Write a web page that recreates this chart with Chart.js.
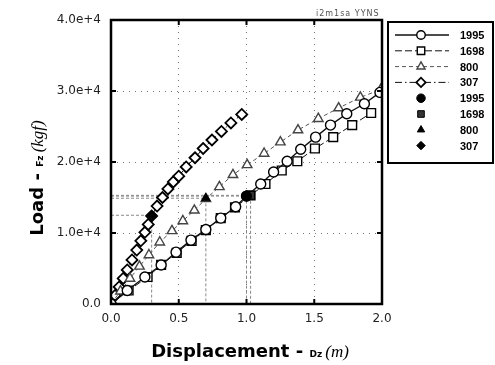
<!DOCTYPE html>
<html>
<head>
<meta charset="utf-8">
<script src="https://cdn.jsdelivr.net/npm/chart.js@4"></script>
<style>
  body { margin: 0; background: #fff; }
  #wrap { width: 495px; height: 365px; }
</style>
</head>
<body>
<div id="wrap"><canvas id="loadChart"></canvas></div>
<script>
// curves: displacement (m) and load (kgf)
const x1995 = [0, 0.12, 0.25, 0.37, 0.48, 0.59, 0.70, 0.81, 0.92, 1.0, 1.105, 1.20, 1.30, 1.40, 1.51, 1.62, 1.74, 1.87, 1.985];
const y1995 = [0, 1900, 3800, 5500, 7300, 9000, 10500, 12100, 13700, 15200, 16900, 18600, 20100, 21800, 23500, 25200, 26800, 28200, 29800];

const x1698 = [0, 0.13, 0.27, 0.37, 0.485, 0.595, 0.70, 0.81, 0.915, 1.03, 1.14, 1.26, 1.375, 1.505, 1.64, 1.78, 1.92];
const y1698 = [0, 1900, 3800, 5500, 7200, 8900, 10400, 12100, 13600, 15300, 16900, 18800, 20100, 21900, 23500, 25200, 26900];

const x800 = [0, 0.07, 0.14, 0.21, 0.28, 0.36, 0.45, 0.53, 0.615, 0.70, 0.80, 0.90, 1.005, 1.13, 1.25, 1.38, 1.53, 1.68, 1.84, 1.99];
const y800 = [0, 1800, 3600, 5300, 6900, 8700, 10300, 11700, 13200, 14800, 16500, 18200, 19600, 21200, 22800, 24500, 26100, 27600, 29100, 30200];

const x307 = [0, 0.03, 0.06, 0.09, 0.12, 0.155, 0.19, 0.22, 0.25, 0.275, 0.30, 0.34, 0.38, 0.42, 0.46, 0.50, 0.555, 0.62, 0.68, 0.745, 0.815, 0.885, 0.965];
const y307 = [0, 1200, 2400, 3600, 4800, 6200, 7600, 8900, 10100, 11200, 12400, 13800, 15000, 16200, 17200, 18000, 19300, 20600, 21900, 23100, 24300, 25500, 26700];

// highlighted (filled) points
const markLabels = ['1995', '1698', '800', '307'];
const markX = [1.0, 1.03, 0.70, 0.30];
const markY = [15200, 15300, 14900, 12500];

const xTicks = [0, 0.5, 1.0, 1.5, 2.0];
const yTicks = [0, 10000, 20000, 30000, 40000];

const pts = (xs, ys) => xs.map((v, i) => ({ x: v, y: ys[i] }));

const series = [
    { label: '1995', data: pts(x1995, y1995), pointStyle: 'circle', pointRadius: 5, borderDash: [] },
    { label: '1698', data: pts(x1698, y1698), pointStyle: 'rect', pointRadius: 6.2, borderDash: [7, 3] },
    { label: '800', data: pts(x800, y800), pointStyle: 'triangle', pointRadius: 5.5, borderDash: [4, 3] },
    { label: '307', data: pts(x307, y307), pointStyle: 'rectRot', pointRadius: 5.5, borderDash: [7, 3, 1.5, 3] }
];
const lineDatasets = series.map(s => ({
    label: s.label,
    data: s.data,
    showLine: true,
    borderColor: s.label === '800' ? '#555' : '#111',
    borderWidth: s.label === '1995' ? 1.4 : 1,
    borderDash: s.borderDash,
    pointStyle: s.pointStyle,
    pointRadius: s.pointRadius,
    pointBackgroundColor: '#fff',
    pointBorderColor: s.label === '800' ? '#444' : '#000',
    pointBorderWidth: s.label === '307' ? 1.8 : 1.4,
    order: 2
}));

const markStyles = ['circle', 'rect', 'triangle', 'rectRot'];
const markDatasets = markLabels.map((l, i) => ({
    label: l,
    data: [{ x: markX[i], y: markY[i] }],
    showLine: false,
    pointStyle: markStyles[i],
    pointRadius: i === 1 ? 5.5 : 5,
    pointBackgroundColor: i === 1 ? '#333' : '#000',
    pointBorderColor: '#000',
    pointBorderWidth: 1,
    order: 1
}));

// dashed guides from the filled points to both axes
const guideDatasets = markLabels.map((l, i) => ({
    label: 'guide' + l,
    data: [{ x: 0, y: markY[i] }, { x: markX[i], y: markY[i] }, { x: markX[i], y: 0 }],
    showLine: true,
    borderColor: '#888',
    borderWidth: 1,
    borderDash: [3, 2],
    pointRadius: 0,
    order: 5
}));

function drawParts(ctx, parts, cx, cy) {
    let total = 0;
    parts.forEach(p => { ctx.font = p.font; total += ctx.measureText(p.text).width; });
    let x = cx - total / 2;
    parts.forEach(p => {
        ctx.font = p.font;
        ctx.fillText(p.text, x, cy + (p.dy || 0));
        x += ctx.measureText(p.text).width;
    });
}

const framePlugin = {
    id: 'frame',
    afterDraw(chart) {
        const ctx = chart.ctx;
        const a = chart.chartArea;
        const sx = chart.scales.x, sy = chart.scales.y;
        ctx.save();
        // box
        ctx.strokeStyle = '#000';
        ctx.lineWidth = 2.5;
        ctx.setLineDash([]);
        ctx.strokeRect(a.left, a.top, a.right - a.left, a.bottom - a.top);
        // inward tick marks
        ctx.lineWidth = 2;
        xTicks.forEach(v => {
            const px = sx.getPixelForValue(v);
            ctx.beginPath();
            ctx.moveTo(px, a.bottom); ctx.lineTo(px, a.bottom - 5);
            ctx.moveTo(px, a.top); ctx.lineTo(px, a.top + 5);
            ctx.stroke();
        });
        yTicks.forEach(v => {
            const py = sy.getPixelForValue(v);
            ctx.beginPath();
            ctx.moveTo(a.left, py); ctx.lineTo(a.left + 5, py);
            ctx.moveTo(a.right, py); ctx.lineTo(a.right - 5, py);
            ctx.stroke();
        });

        ctx.fillStyle = '#000';
        ctx.textBaseline = 'alphabetic';
        // x title
        drawParts(ctx, [
            { text: 'Displacement - ', font: 'bold 18px "DejaVu Sans"' },
            { text: 'Dz ', font: 'bold 9px "DejaVu Sans"' },
            { text: '(m)', font: 'italic 17px "Liberation Serif"' }
        ], 250, 357);
        // y title
        ctx.save();
        ctx.translate(43, 178);
        ctx.rotate(-Math.PI / 2);
        drawParts(ctx, [
            { text: 'Load - ', font: 'bold 18px "DejaVu Sans"' },
            { text: 'Fz ', font: 'bold 9px "DejaVu Sans"' },
            { text: '(kgf)', font: 'italic 17px "Liberation Serif"' }
        ], 0, 0);
        ctx.restore();

        // small tag above the plot
        ctx.fillStyle = '#555';
        ctx.font = '8px "DejaVu Sans"';
        ctx.textAlign = 'left';
        ctx.letterSpacing = '1px';
        ctx.fillText('i2m1sa YYNS', 316, 16);
        ctx.letterSpacing = '0px';

        // legend box
        const lx = 388, ly = 22, lw = 105, lh = 141;
        ctx.strokeStyle = '#000';
        ctx.lineWidth = 2;
        ctx.strokeRect(lx, ly, lw, lh);
        const rows = chart.data.datasets.filter(d => !d.label.startsWith('guide'));
        rows.sort((p, q) => q.order - p.order);
        rows.forEach((d, i) => {
            const y = 35 + i * 15.8;
            if (d.showLine) {
                ctx.strokeStyle = d.borderColor;
                ctx.lineWidth = d.borderWidth;
                ctx.setLineDash(d.borderDash);
                ctx.beginPath();
                ctx.moveTo(395, y); ctx.lineTo(449, y);
                ctx.stroke();
                ctx.setLineDash([]);
            }
            ctx.fillStyle = d.pointBackgroundColor;
            ctx.strokeStyle = d.pointBorderColor;
            ctx.lineWidth = d.pointBorderWidth;
            Chart.helpers.drawPoint(ctx, { pointStyle: d.pointStyle, radius: d.pointRadius * 0.85, borderWidth: d.pointBorderWidth }, 421, y);
            ctx.fillStyle = '#000';
            ctx.font = 'bold 11px "Liberation Sans"';
            ctx.textBaseline = 'middle';
            ctx.fillText(d.label, 460, y + 1);
        });
        ctx.restore();
    }
};

const ctx = document.getElementById('loadChart').getContext('2d');
const loadChart = new Chart(ctx, {
    type: 'scatter',
    data: { datasets: [...lineDatasets, ...markDatasets, ...guideDatasets] },
    options: {
        responsive: true,
        maintainAspectRatio: false,
        animation: false,
        layout: { padding: { left: 0, right: 113, top: 20, bottom: 0 } },
        scales: {
            x: {
                type: 'linear',
                min: 0,
                max: 2,
                afterBuildTicks: s => { s.ticks = xTicks.map(v => ({ value: v })); },
                afterFit: s => { s.height = 61; },
                grid: { color: '#777', lineWidth: 1, drawTicks: false },
                border: { display: false, dash: [1, 5] },
                ticks: {
                    padding: 8,
                    color: '#222',
                    font: { family: 'DejaVu Sans', size: 12 },
                    callback: v => v.toFixed(1)
                }
            },
            y: {
                type: 'linear',
                min: 0,
                max: 40000,
                afterBuildTicks: s => { s.ticks = yTicks.map(v => ({ value: v })); },
                afterFit: s => { s.width = 111; },
                grid: { color: '#777', lineWidth: 1, drawTicks: false },
                border: { display: false, dash: [1, 5] },
                ticks: {
                    padding: 10,
                    color: '#222',
                    font: { family: 'DejaVu Sans', size: 12 },
                    callback: v => v === 0 ? '0.0' : (v / 10000).toFixed(1) + 'e+4'
                }
            }
        },
        plugins: {
            legend: { display: false },
            tooltip: { enabled: false }
        }
    },
    plugins: [framePlugin]
});
</script>
</body>
</html>
